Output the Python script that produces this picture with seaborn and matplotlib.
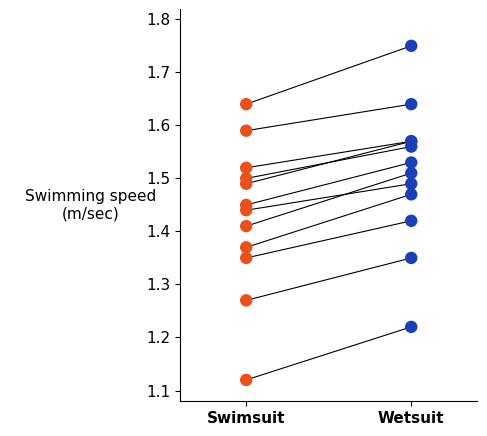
import matplotlib
matplotlib.use("Agg")
import matplotlib.pyplot as plt
import seaborn as sns
import pandas as pd

swimsuit = [1.49, 1.37, 1.35, 1.27, 1.12, 1.64, 1.59, 1.52, 1.50, 1.45, 1.44, 1.41]
wetsuit = [1.57, 1.47, 1.42, 1.35, 1.22, 1.75, 1.64, 1.57, 1.56, 1.53, 1.49, 1.51]
conditions = ["Swimsuit", "Wetsuit"]

rows = []
for i, (s, w) in enumerate(zip(swimsuit, wetsuit)):
    rows.append({"swimmer": i, "cond": 0, "speed": s, "label": conditions[0]})
    rows.append({"swimmer": i, "cond": 1, "speed": w, "label": conditions[1]})
df = pd.DataFrame(rows)

fig = plt.figure(figsize=(4.87, 4.36), dpi=100)
ax = fig.add_axes([0.37, 0.08, 0.61, 0.90])
for i, g in df.groupby("swimmer"):
    sns.lineplot(data=g, x="cond", y="speed", color="black", lw=0.8, ax=ax, legend=False)
sns.scatterplot(data=df, x="cond", y="speed", hue="label",
                palette={"Swimsuit": "#E8501C", "Wetsuit": "#1B3FB5"},
                s=80, edgecolor="none", zorder=3, ax=ax, legend=False)
ax.set_xlim(-0.4, 1.4)
ax.set_ylim(1.08, 1.82)
ax.set_xticks([0, 1])
ax.set_xticklabels(conditions, fontweight="bold", fontsize=11)
ax.tick_params(axis="y", labelsize=11)
ax.set_xlabel("")
ax.set_ylabel("Swimming speed\n(m/sec)", rotation=0, fontsize=11, labelpad=40, va="center")
ax.spines["top"].set_visible(False)
ax.spines["right"].set_visible(False)
fig.savefig("out.png", dpi=100)
